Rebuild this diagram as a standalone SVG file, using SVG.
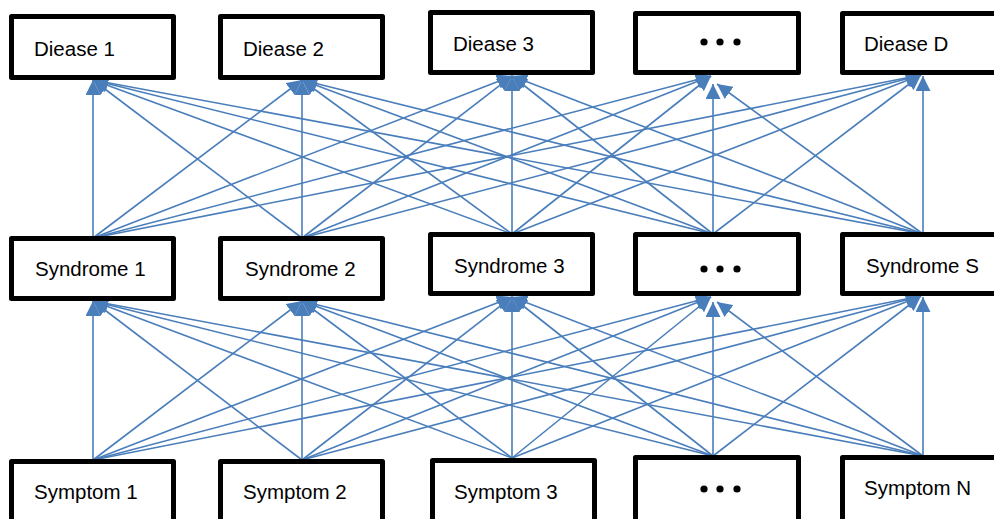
<svg xmlns="http://www.w3.org/2000/svg" width="994" height="519" viewBox="0 0 994 519">
  <style>
    .box { fill: #ffffff; stroke: #000000; stroke-width: 5; stroke-linejoin: round; }
    .lbl { font-family: "Liberation Sans", Arial, sans-serif; font-size: 20.5px; fill: #000000; }
    .dot { fill: #000000; }
    .edge { stroke: #4A7EBB; stroke-width: 1.6; fill: none; marker-end: url(#tri); }
  </style>
  <defs>
    <marker id="tri" markerUnits="userSpaceOnUse" markerWidth="16" markerHeight="15" refX="15" refY="7.5" orient="auto">
      <path d="M0,0 L15,7.5 L0,15 Z" fill="#4A7EBB"/>
    </marker>
  </defs>

  <rect width="994" height="519" fill="#ffffff"/>

  <!-- connectors: syndromes to diseases, symptoms to syndromes -->
  <g id="connectors">
    <!-- Syndrome 1 -->
    <line class="edge" x1="93" y1="238" x2="93" y2="80"/>
    <line class="edge" x1="93" y1="238" x2="302" y2="80"/>
    <line class="edge" x1="93" y1="238" x2="512" y2="76"/>
    <line class="edge" x1="93" y1="238" x2="711" y2="76"/>
    <line class="edge" x1="93" y1="238" x2="921" y2="75"/>
    <!-- Syndrome 2 -->
    <line class="edge" x1="302" y1="238" x2="93" y2="80"/>
    <line class="edge" x1="302" y1="238" x2="302" y2="80"/>
    <line class="edge" x1="302" y1="238" x2="512" y2="76"/>
    <line class="edge" x1="302" y1="238" x2="711" y2="76"/>
    <line class="edge" x1="302" y1="238" x2="921" y2="75"/>
    <!-- Syndrome 3 -->
    <line class="edge" x1="512" y1="234" x2="93" y2="80"/>
    <line class="edge" x1="512" y1="234" x2="302" y2="80"/>
    <line class="edge" x1="512" y1="234" x2="512" y2="76"/>
    <line class="edge" x1="512" y1="234" x2="711" y2="76"/>
    <line class="edge" x1="512" y1="234" x2="921" y2="75"/>
    <!-- Syndrome ... -->
    <line class="edge" x1="713" y1="234" x2="93" y2="80"/>
    <line class="edge" x1="713" y1="234" x2="302" y2="80"/>
    <line class="edge" x1="713" y1="234" x2="512" y2="76"/>
    <line class="edge" x1="713" y1="234" x2="713" y2="84"/>
    <line class="edge" x1="713" y1="234" x2="921" y2="75"/>
    <!-- Syndrome S -->
    <line class="edge" x1="923" y1="234" x2="93" y2="80"/>
    <line class="edge" x1="923" y1="234" x2="302" y2="80"/>
    <line class="edge" x1="923" y1="234" x2="512" y2="76"/>
    <line class="edge" x1="923" y1="234" x2="717" y2="84"/>
    <line class="edge" x1="923" y1="234" x2="923" y2="76"/>

    <!-- Symptom 1 -->
    <line class="edge" x1="93" y1="460" x2="93" y2="301"/>
    <line class="edge" x1="93" y1="460" x2="302" y2="301"/>
    <line class="edge" x1="93" y1="460" x2="512" y2="297"/>
    <line class="edge" x1="93" y1="460" x2="711" y2="297"/>
    <line class="edge" x1="93" y1="460" x2="921" y2="296"/>
    <!-- Symptom 2 -->
    <line class="edge" x1="302" y1="460" x2="93" y2="301"/>
    <line class="edge" x1="302" y1="460" x2="302" y2="301"/>
    <line class="edge" x1="302" y1="460" x2="512" y2="297"/>
    <line class="edge" x1="302" y1="460" x2="711" y2="297"/>
    <line class="edge" x1="302" y1="460" x2="921" y2="296"/>
    <!-- Symptom 3 -->
    <line class="edge" x1="512" y1="458" x2="93" y2="301"/>
    <line class="edge" x1="512" y1="458" x2="302" y2="301"/>
    <line class="edge" x1="512" y1="458" x2="512" y2="297"/>
    <line class="edge" x1="512" y1="458" x2="711" y2="297"/>
    <line class="edge" x1="512" y1="458" x2="921" y2="296"/>
    <!-- Symptom ... -->
    <line class="edge" x1="713" y1="456" x2="93" y2="301"/>
    <line class="edge" x1="713" y1="456" x2="302" y2="301"/>
    <line class="edge" x1="713" y1="456" x2="512" y2="297"/>
    <line class="edge" x1="713" y1="456" x2="713" y2="302"/>
    <line class="edge" x1="713" y1="456" x2="921" y2="296"/>
    <!-- Symptom N -->
    <line class="edge" x1="923" y1="456" x2="93" y2="301"/>
    <line class="edge" x1="923" y1="456" x2="302" y2="301"/>
    <line class="edge" x1="923" y1="456" x2="512" y2="297"/>
    <line class="edge" x1="923" y1="456" x2="717" y2="302"/>
    <line class="edge" x1="923" y1="456" x2="923" y2="297"/>
  </g>

  <!-- disease row -->
  <g id="disease1"><rect class="box" x="11.5" y="16.5" width="162" height="61"/><text class="lbl" x="34" y="56">Diease 1</text></g>
  <g id="disease2"><rect class="box" x="220.5" y="16.5" width="162" height="61"/><text class="lbl" x="243" y="56">Diease 2</text></g>
  <g id="disease3"><rect class="box" x="430.5" y="12.5" width="162" height="60"/><text class="lbl" x="453" y="51">Diease 3</text></g>
  <g id="diseaseMore"><rect class="box" x="635.5" y="13.5" width="163" height="59"/>
    <circle class="dot" cx="704" cy="42" r="3.6"/><circle class="dot" cx="720" cy="42" r="3.6"/><circle class="dot" cx="737" cy="42" r="3.6"/></g>
  <g id="diseaseD"><rect class="box" x="842.5" y="13.5" width="163" height="59"/><text class="lbl" x="864" y="51">Diease D</text></g>

  <!-- syndrome row -->
  <g id="syndrome1"><rect class="box" x="11.5" y="238.5" width="162" height="60"/><text class="lbl" x="35" y="276">Syndrome 1</text></g>
  <g id="syndrome2"><rect class="box" x="220.5" y="238.5" width="162" height="60"/><text class="lbl" x="245" y="276">Syndrome 2</text></g>
  <g id="syndrome3"><rect class="box" x="430.5" y="234.5" width="162" height="59"/><text class="lbl" x="454" y="273">Syndrome 3</text></g>
  <g id="syndromeMore"><rect class="box" x="635.5" y="234.5" width="163" height="59"/>
    <circle class="dot" cx="704" cy="269" r="3.6"/><circle class="dot" cx="720" cy="269" r="3.6"/><circle class="dot" cx="737" cy="269" r="3.6"/></g>
  <g id="syndromeS"><rect class="box" x="842.5" y="234.5" width="163" height="59"/><text class="lbl" x="866" y="273">Syndrome S</text></g>

  <!-- symptom row -->
  <g id="symptom1"><rect class="box" x="11.5" y="461.5" width="162" height="62"/><text class="lbl" x="34" y="499">Symptom 1</text></g>
  <g id="symptom2"><rect class="box" x="220.5" y="461.5" width="162" height="62"/><text class="lbl" x="243" y="499">Symptom 2</text></g>
  <g id="symptom3"><rect class="box" x="432.5" y="460.5" width="162" height="62"/><text class="lbl" x="454" y="499">Symptom 3</text></g>
  <g id="symptomMore"><rect class="box" x="635.5" y="457.5" width="163" height="64"/>
    <circle class="dot" cx="704" cy="489" r="3.6"/><circle class="dot" cx="720" cy="489" r="3.6"/><circle class="dot" cx="737" cy="489" r="3.6"/></g>
  <g id="symptomN"><rect class="box" x="842.5" y="457.5" width="163" height="64"/><text class="lbl" x="864" y="495">Symptom N</text></g>
</svg>
